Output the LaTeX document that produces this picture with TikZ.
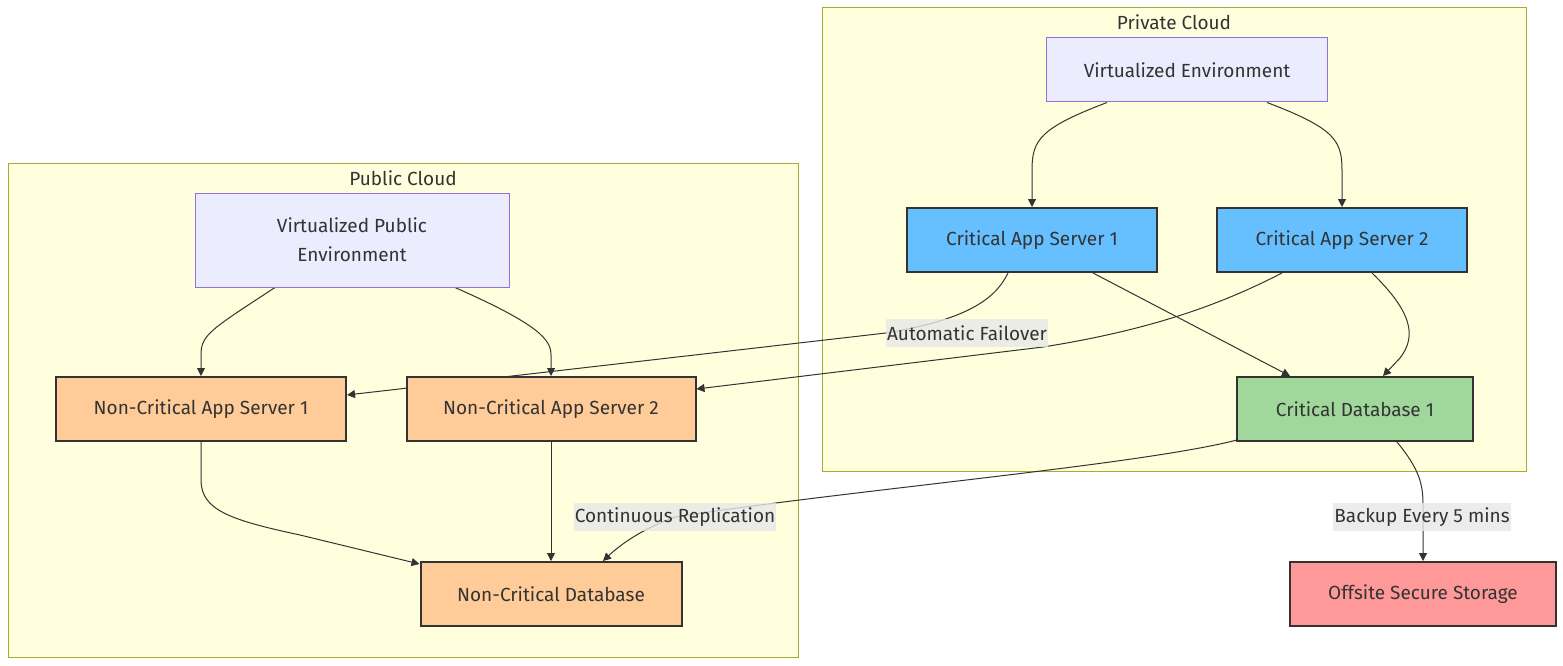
\documentclass[tikz,border=0pt]{standalone}
\usepackage{fontspec}
\setmainfont{Fira Sans}
\usetikzlibrary{arrows.meta}
\definecolor{clusterfill}{HTML}{FFFFDE}
\definecolor{clusterline}{HTML}{AAAA33}
\definecolor{envfill}{HTML}{ECECFF}
\definecolor{envline}{HTML}{9370DB}
\definecolor{critfill}{HTML}{66BFFF}
\definecolor{dbfill}{HTML}{A0D89B}
\definecolor{noncritfill}{HTML}{FFCC99}
\definecolor{storefill}{HTML}{FF9999}
\definecolor{darkline}{HTML}{333333}
\definecolor{lblfill}{HTML}{E8E8E8}
\pgfdeclarelayer{bg}
\pgfdeclarelayer{edges}
\pgfsetlayers{bg,edges,main}
\tikzset{
	cluster/.style={draw=clusterline, fill=clusterfill, line width=1pt},
	title/.style={text=darkline, font=\fontsize{19}{23}\selectfont},
	envbox/.style={draw=envline, fill=envfill, line width=1pt, text=darkline, font=\fontsize{19}{29}\selectfont, align=center, inner sep=0pt},
	srvbox/.style={draw=darkline, line width=2pt, text=darkline, font=\fontsize{19}{23}\selectfont, inner sep=0pt, minimum height=64pt},
	edge/.style={draw=darkline, line width=1pt, -{Triangle[length=8pt,width=8pt]}},
	lbl/.style={fill=lblfill, fill opacity=0.8, text opacity=1, text=darkline, font=\fontsize{19}{23}\selectfont, inner xsep=1pt, inner ysep=0pt, minimum height=28pt}
}

\begin{document}
\begin{tikzpicture}[x=1pt, y=-1pt]
		%%%%% START %%%%%
		\useasboundingbox (0, 0) rectangle (1563, 666);
		
		\begin{pgfonlayer}{bg}
		\fill[white] (0, 0) rectangle (1563, 666);
		\draw[cluster] (8, 163) rectangle (798, 657);
		\draw[cluster] (822, 8) rectangle (1526, 471);
		\end{pgfonlayer}
		\node[title] (pubtitle) at (403, 178) {Public Cloud};
		\node[title] (privtitle) at (1174, 22) {Private Cloud};
		
		\node[envbox, minimum width=281pt, minimum height=64pt] (ve) at (1187, 70) {Virtualized Environment};
		\node[srvbox, fill=critfill, minimum width=250pt] (cas1) at (1032, 240) {Critical App Server 1};
		\node[srvbox, fill=critfill, minimum width=250pt] (cas2) at (1342, 240) {Critical App Server 2};
		\node[srvbox, fill=dbfill, minimum width=236pt] (cdb) at (1355, 409) {Critical Database 1};
		\node[srvbox, fill=storefill, minimum width=266pt] (store) at (1423, 594) {Offsite Secure Storage};
		
		\node[envbox, minimum width=314pt, minimum height=94pt] (vpe) at (352, 240) {Virtualized Public\\Environment};
		\node[srvbox, fill=noncritfill, minimum width=290pt] (ncas1) at (201, 409) {Non-Critical App Server 1};
		\node[srvbox, fill=noncritfill, minimum width=289pt] (ncas2) at (551, 409) {Non-Critical App Server 2};
		\node[srvbox, fill=noncritfill, minimum width=261pt] (ncdb) at (551, 594) {Non-Critical Database};
		
		\node[lbl] (failover) at (967, 333) {Automatic Failover};
		\node[lbl] (replic) at (675, 517) {Continuous Replication};
		\node[lbl] (backup) at (1422, 517) {Backup Every 5 mins};
		
		\begin{pgfonlayer}{edges}
		\draw[edge] ([xshift=-80pt]ve.south) .. controls (1040, 128) and (1032, 140) .. (1032, 170) -- (cas1.north);
		\draw[edge] ([xshift=80pt]ve.south) .. controls (1334, 128) and (1342, 140) .. (1342, 170) -- (cas2.north);
		\draw[edge] ([xshift=-77pt]vpe.south) .. controls (210, 330) and (201, 335) .. (201, 355) -- (ncas1.north);
		\draw[edge] ([xshift=103pt]vpe.south) .. controls (540, 325) and (551, 340) .. (551, 355) -- (ncas2.north);
		
		\draw[edge] ([xshift=61pt]cas1.south) -- ([xshift=-65pt]cdb.north);
		\draw[edge] ([xshift=30pt]cas2.south) .. controls (1410, 310) and (1418, 335) .. (1400, 358) -- ([xshift=28pt]cdb.north);
		
		\draw[edge] ([xshift=-24pt]cas1.south) .. controls (995, 300) and (965, 320) .. (failover.west) -- ([yshift=14pt]ncas1.east);
		\draw[edge] ([xshift=-60pt]cas2.south) .. controls (1220, 305) and (1150, 330) .. (1043, 347) -- ([yshift=20pt]ncas2.east);
		
		\draw[edge] ([xshift=-118pt, yshift=2pt]cdb.south) .. controls (1140, 465) and (850, 490) .. (replic.center) .. controls (640, 530) and (620, 545) .. ([xshift=52pt]ncdb.north);
		\draw[edge] ([xshift=42pt]cdb.south) .. controls (1420, 470) and (1423, 485) .. (1423, 505) -- (store.north);
		
		\draw[edge] (ncas1.south) -- (201, 480) .. controls (201, 510) and (230, 520) .. (300, 535) -- ([yshift=-3pt]ncdb.north west);
		\draw[edge] (ncas2.south) -- (ncdb.north);
		\end{pgfonlayer}
		
		%%%%% END %%%%%
\end{tikzpicture}
\end{document}
